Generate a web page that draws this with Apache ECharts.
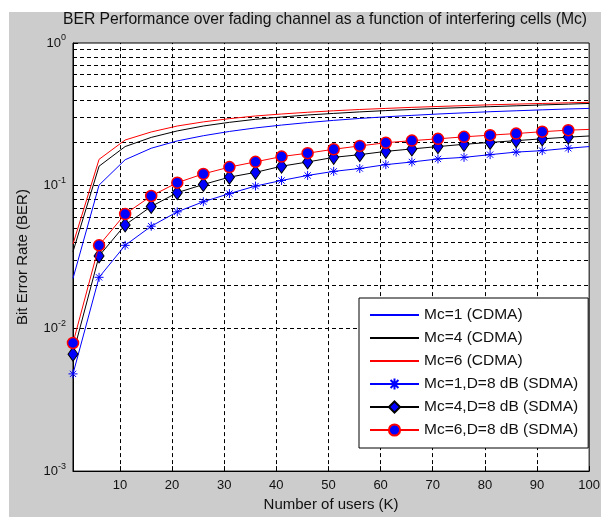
<!DOCTYPE html>
<html>
<head>
<meta charset="utf-8" />
<script src="https://cdn.jsdelivr.net/npm/echarts@6/dist/echarts.min.js"></script>
<style>
  html, body, #main { margin: 0; width: 100%; height: 100%; overflow: hidden; background: #fff; }
</style>
</head>
<body>
<div id="main"></div>
<script type="text/javascript">
// number of users K (markers every 5, line runs to 100)
var users = [1, 6, 11, 16, 21, 26, 31, 36, 41, 46, 51, 56, 61, 66, 71, 76, 81, 86, 91, 96, 100];

// BER values
var cdmaMc1 = [0.0224, 0.101, 0.152, 0.183, 0.206, 0.224, 0.240, 0.254, 0.266, 0.277, 0.287, 0.296, 0.304, 0.311, 0.318, 0.324, 0.330, 0.335, 0.340, 0.345, 0.348];
var cdmaMc4 = [0.0345, 0.137, 0.188, 0.218, 0.242, 0.262, 0.278, 0.292, 0.303, 0.313, 0.321, 0.329, 0.336, 0.342, 0.348, 0.353, 0.358, 0.363, 0.368, 0.373, 0.377];
var cdmaMc6 = [0.039, 0.153, 0.209, 0.238, 0.262, 0.280, 0.295, 0.308, 0.318, 0.327, 0.335, 0.342, 0.348, 0.354, 0.359, 0.364, 0.369, 0.373, 0.377, 0.381, 0.384];
var sdmaMc1 = [0.0048, 0.0228, 0.0382, 0.052, 0.0656, 0.0772, 0.088, 0.0994, 0.1088, 0.118, 0.126, 0.132, 0.1405, 0.1466, 0.154, 0.158, 0.165, 0.172, 0.176, 0.183, 0.188];
var sdmaMc4 = [0.0066, 0.0322, 0.0531, 0.0715, 0.0894, 0.102, 0.1148, 0.124, 0.137, 0.1466, 0.158, 0.165, 0.174, 0.181, 0.188, 0.195, 0.201, 0.207, 0.213, 0.219, 0.223];
var sdmaMc6 = [0.0079, 0.0382, 0.0633, 0.0847, 0.105, 0.121, 0.135, 0.147, 0.160, 0.169, 0.180, 0.190, 0.200, 0.207, 0.213, 0.220, 0.226, 0.232, 0.239, 0.245, 0.248];

var seriesNames = ['Mc=1 (CDMA)', 'Mc=4 (CDMA)', 'Mc=6 (CDMA)',
  'Mc=1,D=8 dB (SDMA)', 'Mc=4,D=8 dB (SDMA)', 'Mc=6,D=8 dB (SDMA)'];

var xTicks = [10, 20, 30, 40, 50, 60, 70, 80, 90, 100];
var decades = [0.001, 0.01, 0.1];

var myChart = echarts.init(document.getElementById('main'));

function pairs(vals, markLast) {
  return users.map(function (k, i) {
    if (markLast && i === users.length - 1) return { value: [k, vals[i]], symbol: 'none' };
    return [k, vals[i]];
  });
}

// dashed grid lines, MATLAB style (major + minor on the log axis)
var gridLines = [];
xTicks.slice(0, -1).forEach(function (x) { gridLines.push({ xAxis: x }); });
decades.forEach(function (d, j) {
  for (var m = 1; m <= 9; m++) {
    if (m === 1 && j === 0) continue;
    gridLines.push({ yAxis: m * d });
  }
});

// legend entries: plain lines for CDMA (hide the symbol), line+marker for SDMA
var legendData = seriesNames.map(function (n, i) {
  return i < 3 ? { name: n, itemStyle: { opacity: 0 } } : { name: n };
});

var starPath = 'path://M5,0L5,10M0,5L10,5M1.5,1.5L8.5,8.5M8.5,1.5L1.5,8.5';
var txt = '#111';
var font = 'Liberation Sans';

var option = {
  animation: false,
  backgroundColor: '#fff',
  graphic: [{
    type: 'rect', left: 9, top: 12, z: -10,
    shape: { width: 592, height: 505 },
    style: { fill: '#cccccc' }
  }],
  title: {
    text: 'BER Performance over fading channel as a function of interfering cells (Mc)',
    left: 58, top: 7,
    textStyle: { fontFamily: font, fontSize: 15.7, fontWeight: 'normal', color: txt }
  },
  grid: {
    left: 73, right: 12, top: 43, bottom: 41,
    show: true, backgroundColor: '#fff', borderColor: '#000', borderWidth: 1
  },
  legend: {
    data: legendData,
    orient: 'vertical',
    left: 359, top: 298, z: 20,
    padding: [9, 10, 10, 10],
    itemWidth: 49, itemHeight: 14, itemGap: 7,
    backgroundColor: '#fff', borderColor: '#000', borderWidth: 1, borderRadius: 0,
    textStyle: { fontFamily: font, fontSize: 15.5, lineHeight: 16, color: txt }
  },
  xAxis: {
    type: 'value', min: 1, max: 100,
    name: 'Number of users (K)', nameLocation: 'middle', nameGap: 25,
    nameTextStyle: { fontFamily: font, fontSize: 15, color: txt },
    axisLine: { lineStyle: { color: '#000' } },
    axisTick: { inside: true, length: 5, customValues: xTicks, lineStyle: { color: '#000' } },
    axisLabel: { customValues: xTicks, margin: 8, fontFamily: font, fontSize: 13, color: txt },
    splitLine: { show: false }
  },
  yAxis: {
    type: 'log', logBase: 10, min: 0.001, max: 1,
    name: 'Bit Error Rate (BER)', nameLocation: 'middle', nameGap: 43,
    nameTextStyle: { fontFamily: font, fontSize: 15, color: txt },
    axisLine: { lineStyle: { color: '#000' } },
    axisTick: { inside: true, length: 5, lineStyle: { color: '#000' } },
    axisLabel: {
      margin: 7,
      formatter: function (v) {
        return '{b|10}{s|' + Math.round(Math.log10(v)) + '}';
      },
      rich: {
        b: { fontFamily: font, fontSize: 13, color: txt },
        s: { fontFamily: font, fontSize: 9, color: txt, padding: [0, 0, 10, 0] }
      }
    },
    splitLine: { show: false }
  },
  series: [
    {
      name: 'grid', type: 'line', data: [[1, 1]], symbol: 'none', silent: true, z: 1,
      lineStyle: { opacity: 0 },
      markLine: {
        silent: true, symbol: 'none', label: { show: false }, z: 1,
        lineStyle: { color: '#000', type: [4, 3], width: 1 },
        emphasis: { disabled: true },
        data: gridLines
      }
    },
    {
      name: seriesNames[0], type: 'line', data: pairs(cdmaMc1, false), symbol: 'none', z: 3,
      itemStyle: { color: '#0000ff' }, lineStyle: { color: '#0000ff', width: 1 }
    },
    {
      name: seriesNames[1], type: 'line', data: pairs(cdmaMc4, false), symbol: 'none', z: 3,
      itemStyle: { color: '#000' }, lineStyle: { color: '#000', width: 1 }
    },
    {
      name: seriesNames[2], type: 'line', data: pairs(cdmaMc6, false), symbol: 'none', z: 3,
      itemStyle: { color: '#ff0000' }, lineStyle: { color: '#ff0000', width: 1 }
    },
    {
      name: seriesNames[3], type: 'line', data: pairs(sdmaMc1, true), z: 4,
      symbol: starPath, symbolSize: 9, showAllSymbol: true,
      itemStyle: { color: '#0000ff', borderColor: '#0000ff', borderWidth: 1 },
      lineStyle: { color: '#0000ff', width: 1 }
    },
    {
      name: seriesNames[4], type: 'line', data: pairs(sdmaMc4, true), z: 5,
      symbol: 'diamond', symbolSize: [10, 14], showAllSymbol: true,
      itemStyle: { color: '#0000ff', borderColor: '#000', borderWidth: 1 },
      lineStyle: { color: '#000', width: 1 }
    },
    {
      name: seriesNames[5], type: 'line', data: pairs(sdmaMc6, true), z: 6,
      symbol: 'circle', symbolSize: 11, showAllSymbol: true,
      itemStyle: { color: '#0000ff', borderColor: '#ff0000', borderWidth: 1.5 },
      lineStyle: { color: '#ff0000', width: 1 }
    }
  ]
};

myChart.setOption(option);
window.addEventListener('resize', function () { myChart.resize(); });
</script>
</body>
</html>
